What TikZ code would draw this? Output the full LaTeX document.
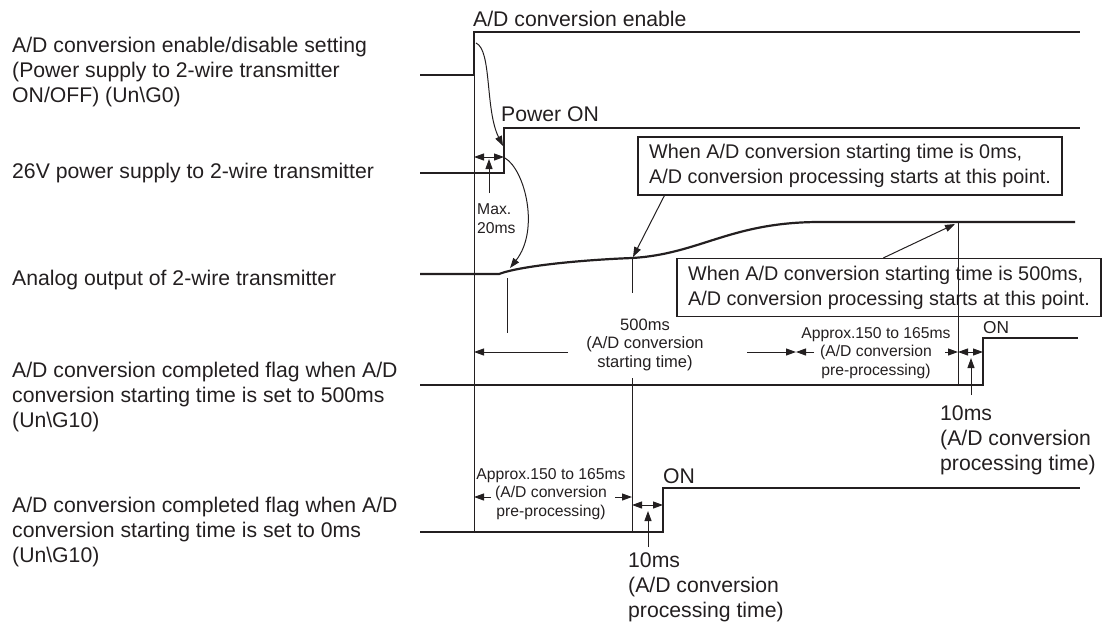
\documentclass[tikz,border=0pt]{standalone}
\usepackage{fontspec}
\setmainfont{Liberation Sans}
\usepackage{xcolor}
\usetikzlibrary{arrows.meta,positioning}

\definecolor{ink}{RGB}{35,31,32}

\tikzset{
    signal/.style={line width=2.2pt, line join=miter},
    guide/.style={line width=1pt},
    lbl/.style={anchor=base west, inner sep=0pt, align=left,
        font=\fontsize{21.2}{24.8}\selectfont},
    dim/.style={anchor=base, inner sep=0pt, align=center,
        font=\fontsize{15.7}{18.5}\selectfont},
    callout/.style={draw, line width=1.2pt, inner sep=0pt,
        minimum width=424pt, minimum height=58pt, align=left,
        font=\fontsize{19.8}{25}\selectfont}
}

\begin{document}
\begin{tikzpicture}[x=1pt, y=-1pt, color=ink, >={Triangle[length=10pt, width=7pt]}]

    \useasboundingbox (0,0) rectangle (1109,622);

    % signal names (anchored on the last line)
    \node[lbl] (nEnable) at (12,102) {A/D conversion enable/disable setting\\(Power supply to 2-wire transmitter\\ON/OFF) (Un\textbackslash G0)};
    \node[lbl] (nPower)  at (12,178) {26V power supply to 2-wire transmitter};
    \node[lbl] (nAnalog) at (12,285) {Analog output of 2-wire transmitter};
    \node[lbl] (nFlagA)  at (12,427) {A/D conversion completed flag when A/D\\conversion starting time is set to 500ms\\(Un\textbackslash G10)};
    \node[lbl] (nFlagB)  at (12,562) {A/D conversion completed flag when A/D\\conversion starting time is set to 0ms\\(Un\textbackslash G10)};

    % waveforms
    \draw[signal] (420,75) -- (474,75) -- (474,32) -- (1080,32);
    \draw[signal] (420,173) -- (504,173) -- (504,128) -- (1080,128);
    \draw[signal] (420,274) -- (499,274)
        .. controls (520,266) and (580,260) .. (632,258)
        .. controls (700,254) and (730,222) .. (820,222) -- (1075,222);
    \draw[signal] (420,385) -- (983,385) -- (983,338) -- (1078,338);
    \draw[signal] (420,532) -- (663,532) -- (663,488) -- (1080,488);

    \node[lbl] (sEnable) at (473,26) {A/D conversion enable};
    \node[lbl] (sPower)  at (501,121) {Power ON};
    \node[lbl, font=\fontsize{17.3}{20}\selectfont] (sOnA) at (983,333) {ON};
    \node[lbl] (sOnB)    at (663,483) {ON};

    % guide lines
    \draw[guide] (474,75) -- (474,532);
    \draw[guide] (507,278) -- (507,333);
    \draw[guide] (632,258) -- (632,293);
    \draw[guide] (632,378) -- (632,532);
    \draw[guide] (958,222) -- (958,385);

    % power on delay
    \draw[guide, ->] (476,43) .. controls (492,50) and (485,110) .. (503,146);
    \draw[guide, ->] (505,158) .. controls (525,170) and (540,230) .. (510,268);
    \draw[guide, <->] (474,157) -- (504,157);
    \draw[guide, ->] (489,193) -- (489,159);
    \node[lbl, font=\fontsize{15.7}{18.5}\selectfont] (dMax) at (477,233) {Max.\\20ms};

    % starting time 500ms
    \node[dim, font=\fontsize{16.5}{18.5}\selectfont] (dStart) at (645,367) {500ms\\(A/D conversion\\starting time)};
    \draw[guide, ->] (568,352) -- (474,352);
    \draw[guide, ->] (747,352) -- (796,352);
    \node[dim] (dPreA) at (876,375) {Approx.150 to 165ms\\(A/D conversion\\pre-processing)};
    \draw[guide, ->] (814,352) -- (796,352);
    \draw[guide, ->] (945,352) -- (958,352);
    \draw[guide, <->] (958,352) -- (983,352);
    \draw[guide, ->] (971,395) -- (971,358);
    \node[lbl] (dProcA) at (940,470) {10ms\\(A/D conversion\\processing time)};

    % starting time 0ms
    \node[dim] (dPreB) at (551,516) {Approx.150 to 165ms\\(A/D conversion\\pre-processing)};
    \draw[guide, ->] (491,497) -- (474,497);
    \draw[guide, ->] (615,497) -- (632,497);
    \draw[guide, <->] (632,505) -- (663,505);
    \draw[guide, ->] (648,547) -- (648,511);
    \node[lbl] (dProcB) at (628,617) {10ms\\(A/D conversion\\processing time)};

    % callouts
    \node[callout] (cZero) at (850,166) {When A/D conversion starting time is 0ms,\\A/D conversion processing starts at this point.};
    \node[callout] (cFive) at (889,287.5) {When A/D conversion starting time is 500ms,\\A/D conversion processing starts at this point.};
    \draw[guide, ->] ([xshift=27pt]cZero.south west) -- (633,257);
    \draw[guide, ->] ([xshift=207pt]cFive.north west) -- (955,224);

\end{tikzpicture}
\end{document}
